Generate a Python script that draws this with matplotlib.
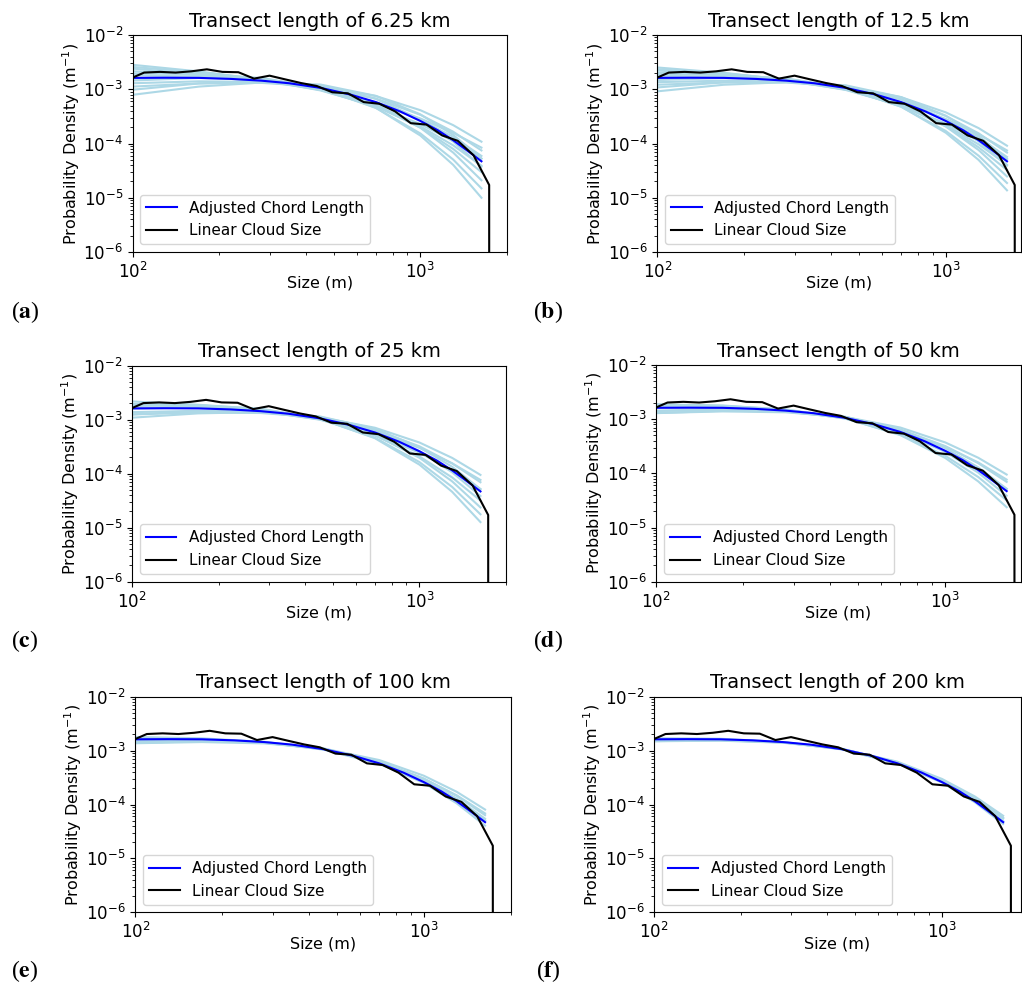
import matplotlib
matplotlib.use("Agg")
import matplotlib.pyplot as plt

# ---------------- data ----------------
titles = ["Transect length of 6.25 km", "Transect length of 12.5 km",
          "Transect length of 25 km", "Transect length of 50 km",
          "Transect length of 100 km", "Transect length of 200 km"]
panel_letters = ["a", "b", "c", "d", "e", "f"]

# Linear cloud size (black, same in all panels)
x_lcs = [100, 109.6, 124.3, 141, 159.8, 181, 205, 233, 264, 299, 339, 385, 436,
         494, 560, 635, 720, 817, 926, 1050, 1190, 1349, 1529, 1734, 1966]
y_lcs = [1.64e-3, 2.03e-3, 2.09e-3, 2.03e-3, 2.14e-3, 2.33e-3, 2.09e-3, 2.06e-3,
         1.57e-3, 1.78e-3, 1.52e-3, 1.30e-3, 1.15e-3, 8.8e-4, 8.4e-4, 5.8e-4,
         5.4e-4, 3.9e-4, 2.37e-4, 2.23e-4, 1.41e-4, 1.12e-4, 6.1e-5, 1.72e-5, 0.0]

# Adjusted chord length (blue, same in all panels)
x_adj = [100, 130, 170, 220, 280, 350, 450, 570, 700, 850, 1000, 1150, 1300, 1450, 1630]
y_adj = [1.62e-3, 1.63e-3, 1.62e-3, 1.55e-3, 1.44e-3, 1.29e-3, 1.06e-3, 8.0e-4,
         5.8e-4, 3.9e-4, 2.6e-4, 1.75e-4, 1.15e-4, 7.5e-5, 4.7e-5]

# Fits from individual transects (light blue)
x_fit = [100, 170, 280, 450, 700, 1000, 1300, 1630]
fits_a = [
    [2.82e-3, 2.13e-3, 1.51e-3, 9.5e-4, 4.88e-4, 2.28e-4, 1.11e-4, 5.27e-5],
    [2.40e-3, 1.91e-3, 1.43e-3, 9.8e-4, 5.5e-4, 2.89e-4, 1.57e-4, 8.4e-5],
    [2.14e-3, 1.92e-3, 1.53e-3, 1.01e-3, 4.9e-4, 1.97e-4, 7.94e-5, 2.97e-5],
    [1.82e-3, 1.69e-3, 1.43e-3, 1.03e-3, 5.78e-4, 2.75e-4, 1.32e-4, 5.9e-5],
    [1.58e-3, 1.77e-3, 1.61e-3, 1.08e-3, 4.56e-4, 1.40e-4, 4.04e-5, 1.0e-5],
    [1.45e-3, 1.61e-3, 1.51e-3, 1.09e-3, 5.3e-4, 1.95e-4, 6.8e-5, 2.1e-5],
    [1.29e-3, 1.40e-3, 1.36e-3, 1.10e-3, 6.75e-4, 3.38e-4, 1.65e-4, 7.45e-5],
    [1.12e-3, 1.28e-3, 1.31e-3, 1.13e-3, 7.5e-4, 4.11e-4, 2.18e-4, 1.08e-4],
    [9.8e-4, 1.28e-3, 1.39e-3, 1.17e-3, 6.65e-4, 2.79e-4, 1.09e-4, 3.73e-5],
    [7.9e-4, 1.12e-3, 1.33e-3, 1.22e-3, 7.55e-4, 3.44e-4, 1.44e-4, 5.27e-5],
    [1.95e-3, 1.91e-3, 1.60e-3, 1.03e-3, 4.53e-4, 1.53e-4, 5.06e-5, 1.49e-5],
    [2.57e-3, 2.07e-3, 1.53e-3, 9.7e-4, 4.8e-4, 2.07e-4, 9.25e-5, 3.91e-5],
]
fits_b = [
    [2.52e-3, 2.01e-3, 1.49e-3, 9.7e-4, 5.05e-4, 2.34e-4, 1.12e-4, 5.15e-5],
    [2.22e-3, 1.84e-3, 1.43e-3, 9.9e-4, 5.6e-4, 2.83e-4, 1.48e-4, 7.45e-5],
    [2.02e-3, 1.85e-3, 1.51e-3, 1.02e-3, 5.07e-4, 2.08e-4, 8.5e-5, 3.25e-5],
    [1.78e-3, 1.68e-3, 1.43e-3, 1.04e-3, 5.79e-4, 2.72e-4, 1.28e-4, 5.65e-5],
    [1.59e-3, 1.74e-3, 1.58e-3, 1.07e-3, 4.79e-4, 1.58e-4, 4.97e-5, 1.37e-5],
    [1.48e-3, 1.61e-3, 1.50e-3, 1.08e-3, 5.4e-4, 2.06e-4, 7.57e-5, 2.47e-5],
    [1.35e-3, 1.44e-3, 1.38e-3, 1.09e-3, 6.55e-4, 3.21e-4, 1.54e-4, 6.8e-5],
    [1.21e-3, 1.34e-3, 1.33e-3, 1.12e-3, 7.14e-4, 3.75e-4, 1.92e-4, 9.1e-5],
    [1.08e-3, 1.34e-3, 1.40e-3, 1.15e-3, 6.48e-4, 2.75e-4, 1.10e-4, 3.91e-5],
    [9.15e-4, 1.21e-3, 1.35e-3, 1.18e-3, 7.17e-4, 3.26e-4, 1.38e-4, 5.15e-5],
    [1.88e-3, 1.85e-3, 1.56e-3, 1.04e-3, 4.76e-4, 1.70e-4, 5.95e-5, 1.87e-5],
    [2.34e-3, 1.97e-3, 1.51e-3, 9.9e-4, 4.98e-4, 2.17e-4, 9.65e-5, 4.06e-5],
]
fits_c = [
    [2.18e-3, 1.87e-3, 1.47e-3, 1.00e-3, 5.32e-4, 2.45e-4, 1.16e-4, 5.18e-5],
    [1.93e-3, 1.71e-3, 1.41e-3, 1.02e-3, 5.91e-4, 3.00e-4, 1.55e-4, 7.67e-5],
    [1.95e-3, 1.83e-3, 1.51e-3, 1.02e-3, 5.11e-4, 2.09e-4, 8.5e-5, 3.18e-5],
    [1.79e-3, 1.85e-3, 1.60e-3, 1.05e-3, 4.54e-4, 1.47e-4, 4.61e-5, 1.27e-5],
    [1.61e-3, 1.69e-3, 1.51e-3, 1.07e-3, 5.2e-4, 1.97e-4, 7.2e-5, 2.37e-5],
    [1.38e-3, 1.46e-3, 1.38e-3, 1.09e-3, 6.53e-4, 3.21e-4, 1.55e-4, 6.95e-5],
    [1.25e-3, 1.36e-3, 1.33e-3, 1.11e-3, 7.1e-4, 3.78e-4, 1.96e-4, 9.5e-5],
    [1.25e-3, 1.44e-3, 1.42e-3, 1.12e-3, 6.16e-4, 2.61e-4, 1.06e-4, 3.86e-5],
    [1.09e-3, 1.31e-3, 1.38e-3, 1.15e-3, 6.77e-4, 3.08e-4, 1.34e-4, 5.18e-5],
    [1.95e-3, 1.89e-3, 1.58e-3, 1.03e-3, 4.65e-4, 1.64e-4, 5.68e-5, 1.77e-5],
]
fits_d = [
    [1.88e-3, 1.74e-3, 1.45e-3, 1.03e-3, 5.59e-4, 2.58e-4, 1.19e-4, 5.18e-5],
    [1.69e-3, 1.60e-3, 1.39e-3, 1.05e-3, 6.19e-4, 3.13e-4, 1.59e-4, 7.67e-5],
    [1.87e-3, 1.79e-3, 1.50e-3, 1.03e-3, 5.18e-4, 2.11e-4, 8.55e-5, 3.18e-5],
    [1.74e-3, 1.76e-3, 1.52e-3, 1.05e-3, 5.06e-4, 1.92e-4, 7.1e-5, 2.37e-5],
    [1.42e-3, 1.48e-3, 1.38e-3, 1.08e-3, 6.46e-4, 3.18e-4, 1.54e-4, 6.95e-5],
    [1.30e-3, 1.39e-3, 1.34e-3, 1.10e-3, 7.0e-4, 3.72e-4, 1.94e-4, 9.5e-5],
    [1.43e-3, 1.54e-3, 1.44e-3, 1.09e-3, 5.87e-4, 2.49e-4, 1.03e-4, 3.86e-5],
    [1.29e-3, 1.43e-3, 1.40e-3, 1.11e-3, 6.37e-4, 2.92e-4, 1.29e-4, 5.18e-5],
]
fits_e = [
    [1.79e-3, 1.69e-3, 1.45e-3, 1.04e-3, 5.67e-4, 2.59e-4, 1.18e-4, 5.07e-5],
    [1.65e-3, 1.59e-3, 1.40e-3, 1.05e-3, 6.13e-4, 3.01e-4, 1.48e-4, 6.83e-5],
    [1.62e-3, 1.60e-3, 1.42e-3, 1.06e-3, 5.95e-4, 2.77e-4, 1.28e-4, 5.46e-5],
    [1.47e-3, 1.51e-3, 1.39e-3, 1.08e-3, 6.29e-4, 3.03e-4, 1.44e-4, 6.34e-5],
    [1.37e-3, 1.44e-3, 1.36e-3, 1.09e-3, 6.69e-4, 3.42e-4, 1.72e-4, 8.06e-5],
    [1.50e-3, 1.58e-3, 1.45e-3, 1.08e-3, 5.81e-4, 2.51e-4, 1.05e-4, 4.05e-5],
    [1.39e-3, 1.49e-3, 1.41e-3, 1.09e-3, 6.19e-4, 2.82e-4, 1.25e-4, 5.07e-5],
]
fits_f = [
    [1.70e-3, 1.66e-3, 1.44e-3, 1.05e-3, 5.74e-4, 2.60e-4, 1.17e-4, 4.88e-5],
    [1.63e-3, 1.61e-3, 1.42e-3, 1.06e-3, 5.96e-4, 2.81e-4, 1.31e-4, 5.68e-5],
    [1.54e-3, 1.56e-3, 1.42e-3, 1.07e-3, 6.04e-4, 2.81e-4, 1.29e-4, 5.47e-5],
    [1.49e-3, 1.53e-3, 1.40e-3, 1.07e-3, 6.23e-4, 2.98e-4, 1.41e-4, 6.18e-5],
    [1.56e-3, 1.60e-3, 1.44e-3, 1.07e-3, 5.80e-4, 2.55e-4, 1.10e-4, 4.36e-5],
    [1.50e-3, 1.55e-3, 1.42e-3, 1.08e-3, 5.99e-4, 2.71e-4, 1.20e-4, 4.88e-5],
]
all_fits = [fits_a, fits_b, fits_c, fits_d, fits_e, fits_f]

# ---------------- layout (pixels) ----------------
W, H = 1022, 985
# left, top, right, bottom, xmax
boxes = [
    (132.7, 35, 507, 252, 2000),
    (657.3, 35, 1021, 252, 1823),
    (132, 365.7, 506, 581.7, 2000),
    (656, 365, 1021, 581.7, 1827),
    (135.3, 696.7, 510.7, 912.3, 2000),
    (654, 696.7, 1021, 912.3, 1880),
]
label_pos = [(25, 312), (548, 312), (25, 641), (548, 641), (25, 971), (548, 971)]

fig = plt.figure(figsize=(W / 100, H / 100), dpi=100)

for i in range(6):
    l, t, r, b, xmax = boxes[i]
    w, h = r - l, b - t
    ax = fig.add_axes([l / W, 1 - b / H, w / W, h / H])
    for curve in all_fits[i]:
        ax.plot(x_fit, curve, color="lightblue", lw=1.5)
    ax.plot(x_adj, y_adj, color="blue", lw=1.5, label="Adjusted Chord Length")
    ax.plot(x_lcs, y_lcs, color="black", lw=1.5, label="Linear Cloud Size")
    ax.set_xscale("log")
    ax.set_yscale("log")
    ax.set_xlim(100, xmax)
    ax.set_ylim(1e-6, 1e-2)
    ax.set_title(titles[i], fontsize=14)
    ax.set_xlabel("Size (m)", fontsize=11.5)
    ax.set_ylabel("Probability Density (m$^{-1}$)", fontsize=11.5)
    ax.yaxis.set_label_coords(-51 / w, 0.5)
    ax.xaxis.set_label_coords(0.5, -24 / h)
    ax.tick_params(labelsize=12)
    ax.legend(loc="lower left", fontsize=11)

    lx, ly = label_pos[i]
    fig.text(lx / W, 1 - ly / H, "($\\mathbf{%s}$)" % panel_letters[i],
             fontsize=17, family="Liberation Serif", math_fontfamily="stix",
             ha="center", va="center")

fig.savefig("out.png", dpi=100)
